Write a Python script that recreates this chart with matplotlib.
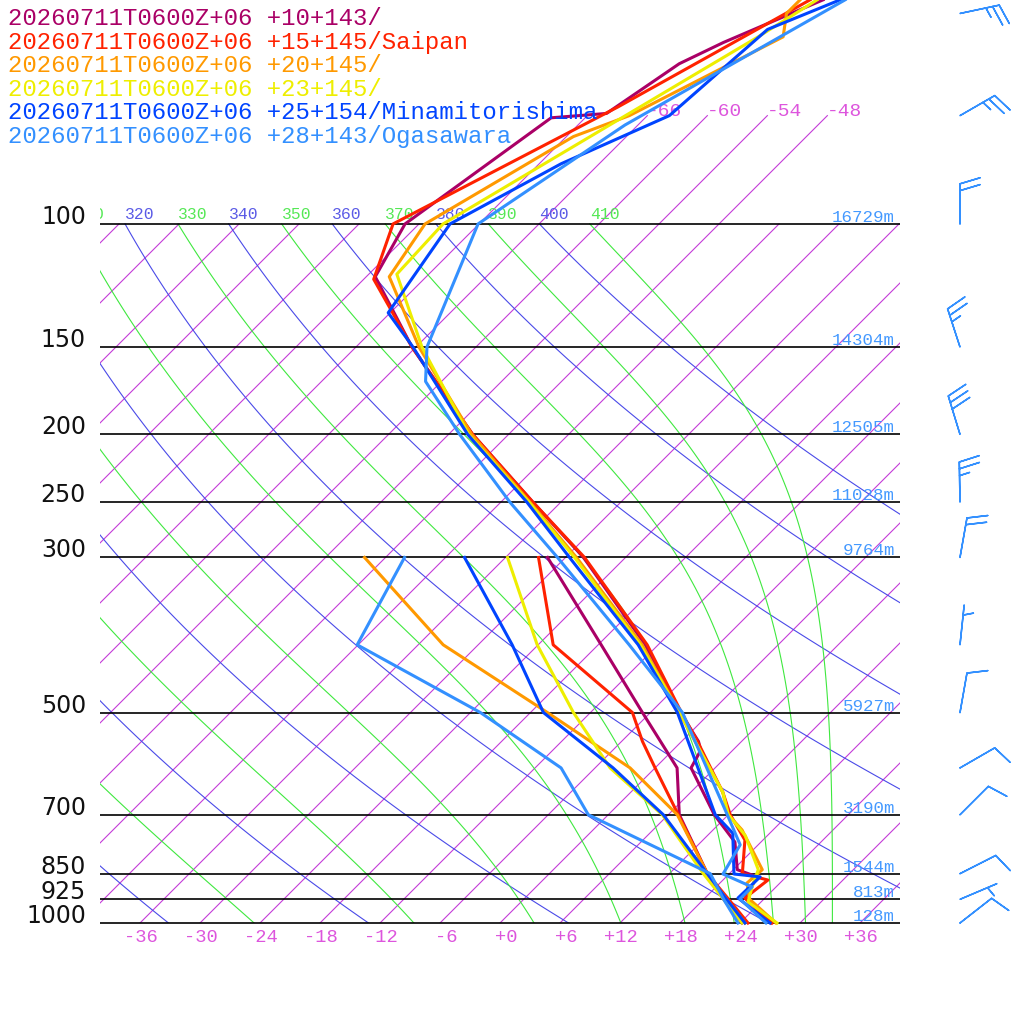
import numpy as np
import matplotlib.pyplot as plt
from matplotlib.patches import Rectangle
from matplotlib.transforms import Bbox, TransformedBbox

# skew-T geometry: x = T + SKEW * ln(1000 / p)
SKEW = 30.36
P_FIG_BOTTOM, P_FIG_TOP = 1394.7, 47.83

levels = [100, 150, 200, 250, 300, 500, 700, 850, 925, 1000]
heights = ['16729m', '14304m', '12505m', '11028m', '9764m',
           '5927m', '3190m', '1544m', '813m', '128m']

isotherms = list(range(-108, 37, 6))
top_labels = [-66, -60, -54, -48]
bottom_labels = list(range(-36, 37, 6))
dry_theta = [240, 260, 280, 300, 320, 340, 360, 380, 400]
moist_theta = [250, 270, 290, 310, 330, 350, 370, 390, 410]

names = ['20260711T0600Z+06 +10+143/',
         '20260711T0600Z+06 +15+145/Saipan',
         '20260711T0600Z+06 +20+145/',
         '20260711T0600Z+06 +23+145/',
         '20260711T0600Z+06 +25+154/Minamitorishima',
         '20260711T0600Z+06 +28+143/Ogasawara']
colors = ['#aa0066', '#ff2200', '#ff9900', '#eeee00', '#0044ff', '#3390ff']

# temperature profiles
p_t1 = [1000, 921, 859, 839, 766, 700, 600, 566, 550, 500, 400, 300, 250, 200, 150, 119, 100, 70.5, 69.5, 59, 55, 47.8]
t_t1 = [27.1, 22.0, 21.1, 18.4, 15.4, 10.6, 3.6, 2.8, 1.7, -3.0, -13.3, -28.2, -38.8, -51.6, -66.4, -77.1, -79.4, -75.4, -70.3, -68.0, -65.7, -60.0]
p_t2 = [1000, 921, 868, 850, 761, 700, 650, 550, 500, 400, 300, 250, 200, 150, 120, 100, 68, 47.8]
t_t2 = [27.2, 22.0, 22.5, 19.3, 16.2, 12.2, 9.2, 1.6, -2.9, -13.1, -28.1, -38.8, -51.6, -66.4, -77.0, -80.6, -69.8, -61.3]
p_t3 = [1000, 925, 877, 839, 736, 700, 650, 500, 400, 300, 250, 200, 150, 119, 100, 75, 70, 54, 50, 47.8]
t_t3 = [27.6, 22.6, 20.7, 20.9, 14.9, 12.0, 9.2, -3.1, -13.6, -28.9, -39.1, -51.7, -65.7, -75.7, -77.4, -71.3, -67.8, -60.3, -62.3, -62.3]
p_t4 = [1000, 933, 888, 839, 750, 700, 650, 500, 400, 300, 250, 200, 150, 118, 100, 54, 47.8]
t_t4 = [27.7, 22.7, 21.6, 20.5, 15.8, 12.0, 9.2, -3.1, -13.8, -29.1, -39.2, -52.0, -65.4, -75.2, -75.6, -62.8, -60.6]
p_t5 = [1000, 921, 859, 851, 744, 700, 500, 400, 300, 250, 200, 150, 134, 100, 82, 70, 52.7, 47.8]
t_t5 = [27.0, 21.3, 21.4, 18.5, 14.3, 10.7, -3.3, -14.0, -29.6, -39.4, -52.1, -66.3, -72.2, -74.9, -69.8, -63.8, -62.6, -58.3]
p_t6 = [1000, 924, 888, 851, 773, 700, 500, 400, 300, 250, 200, 168, 150, 100, 72.2, 47.8]
t_t6 = [26.6, 21.6, 21.6, 17.4, 16.2, 11.9, -2.8, -14.9, -30.8, -41.1, -52.9, -61.6, -64.9, -72.1, -67.3, -57.8]

# dewpoint profiles
p_td = [1000, 925, 850, 700, 600, 500, 400, 300]
td1 = [24.2, 20.0, 15.8, 7.1, 2.2, -6.8, -17.7, -31.8]
p_td2 = [1000, 925, 850, 700, 600, 550, 500, 400, 300]
td2 = [24.8, 20.5, 15.8, 7.0, 0.0, -3.9, -7.8, -22.5, -32.7]
td3 = [24.5, 20.3, 15.8, 6.9, -2.5, -16.3, -33.5, -50.1]
td4 = [24.2, 20.0, 15.4, 5.4, -4.5, -13.7, -24.1, -35.8]
td5 = [24.5, 20.3, 15.8, 5.5, -4.2, -16.7, -26.6, -40.1]
td6 = [23.8, 20.0, 16.1, -2.0, -9.4, -23.0, -42.1, -46.1]

temps = [(p_t1, t_t1), (p_t2, t_t2), (p_t3, t_t3), (p_t4, t_t4), (p_t5, t_t5), (p_t6, t_t6)]
dews = [(p_td, td1), (p_td2, td2), (p_td, td3), (p_td, td4), (p_td, td5), (p_td, td6)]

# winds (Ogasawara)
barb_p = [50, 70, 100, 150, 200, 250, 300, 400, 500, 600, 700, 850, 925, 1000]
barb_dir = [78, 60, 0, 342, 343, 359, 10, 6, 10, 60, 45, 63, 67, 52]
barb_spd = [25, 25, 20, 25, 30, 25, 20, 5, 10, 10, 10, 10, 5, 10]


def skew_x(t, p):
    return np.asarray(t, float) + SKEW * np.log(1000.0 / np.asarray(p, float))


def theta_e_sat(tk, p):
    tc = tk - 273.15
    es = 6.112 * np.exp(17.67 * tc / (tc + 243.5))
    r = 622.0 * es / (p - es)
    return (tk * (1000.0 / p) ** (0.2854 * (1 - 0.28e-3 * r))
            * np.exp((3.376 / tk - 0.00254) * r * (1 + 0.81e-3 * r)))


def moist_temp(the, p):
    lo = np.full_like(p, 150.0)
    hi = np.full_like(p, 310.0)
    for _ in range(60):
        mid = 0.5 * (lo + hi)
        big = theta_e_sat(mid, p) > the
        hi = np.where(big, mid, hi)
        lo = np.where(big, lo, mid)
    return 0.5 * (lo + hi) - 273.15


fig = plt.figure(figsize=(10.24, 10.24), dpi=100)
ax = fig.add_axes([0, 0, 1, 1])
ax.set_yscale('log')
ax.set_xlim(-50, 52.4)
ax.set_ylim(P_FIG_BOTTOM, P_FIG_TOP)
ax.axis('off')

box = Rectangle((-40, 40), 80, 960, transform=ax.transData, fill=False, lw=0)
ax.add_patch(box)
clip_bb = TransformedBbox(Bbox.from_extents(-40, 40, 40, 1000), ax.transData)

CHAR_W = 0.983  # width of one 11.8pt mono char in x units


def theta_label(x0, text, color):
    # labels are cut by the left edge of the box: keep only the chars inside
    while text and x0 < -41:
        text = text[1:]
        x0 += CHAR_W
    if not text:
        return
    tx = ax.text(x0, 98.4, text, color=color, fontsize=11.8, family='Liberation Mono',
                 ha='left', va='baseline', clip_on=True)
    tx.set_clip_box(clip_bb)


pp = np.geomspace(1000, 100, 120)

# isotherms
for t in isotherms:
    ptop = 70 if -72 <= t <= -48 else 100
    pl = np.array([1000.0, ptop])
    ln, = ax.plot(skew_x(t, pl), pl, color='#c43cd8', lw=0.8, zorder=1)
    ln.set_clip_path(box)
for t in top_labels:
    ax.text(skew_x(t, 70), 70, str(t), color='#dd55dd', fontsize=14,
            family='Liberation Mono', ha='left', va='baseline', zorder=1)
for t in bottom_labels:
    ax.text(t + 1.8, 1064.6, f'{t:+d}', color='#dd55dd', fontsize=13.5,
            family='Liberation Mono', ha='right', va='baseline')

# dry adiabats
for th in dry_theta:
    tt = th * (pp / 1000.0) ** 0.2857 - 273.15
    ln, = ax.plot(skew_x(tt, pp), pp, color='#4a4ae8', lw=0.8, zorder=1)
    ln.set_clip_path(box)
    theta_label(skew_x(th * 0.1 ** 0.2857 - 273.15, 100), str(th), '#5a5ae6')

# moist adiabats
for th in moist_theta:
    tt = moist_temp(th, pp)
    ln, = ax.plot(skew_x(tt, pp), pp, color='#3fe83f', lw=0.8, zorder=1)
    ln.set_clip_path(box)
    theta_label(skew_x(tt[-1], 100), str(th), '#55e855')

# pressure lines and labels
ax.hlines(levels, -40, 40, colors='black', lw=1.2, zorder=2)
for p, h in zip(levels, heights):
    ax.text(-41.4, p, str(p), fontsize=17, family='DejaVu Sans', color='#111111',
            ha='right', va='baseline')
    ax.text(39.5, p * 0.9934, h, fontsize=12.6, family='Liberation Mono', color='#4499ff',
            ha='right', va='baseline')

# profiles
for (pt, tt), (pd, dd), c in zip(temps, dews, colors):
    ax.plot(skew_x(dd, pd), pd, color=c, lw=2.2, zorder=3)
    ax.plot(skew_x(tt, pt), pt, color=c, lw=2.2, zorder=3)

# legend
for i, (name, c) in enumerate(zip(names, colors)):
    fig.text(8 / 1024, 1 - (25 + 23.6 * i) / 1024, name, color=c, fontsize=17.3,
             family='Liberation Mono', ha='left', va='baseline')

# wind barbs
rad = np.deg2rad(barb_dir)
u = -np.array(barb_spd) * np.sin(rad)
v = -np.array(barb_spd) * np.cos(rad)
ax.barbs(np.full(len(barb_p), 46.0), barb_p, u, v, length=7.6, color='#3390ff',
         lw=1.1, sizes=dict(height=0.5, spacing=0.17, width=0.3), zorder=4)

fig.savefig('out.png', dpi=100, facecolor='white')
